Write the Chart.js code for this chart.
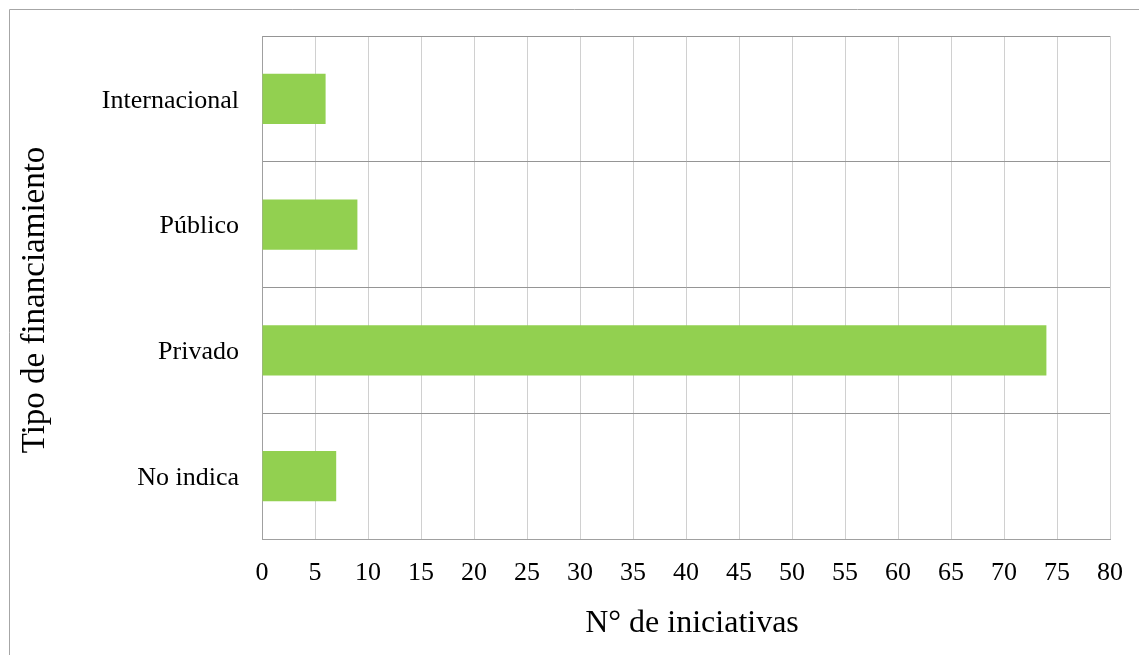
<!DOCTYPE html>
<html>
<head>
<meta charset="utf-8">
<script src="https://cdn.jsdelivr.net/npm/chart.js@4/dist/chart.umd.min.js"></script>
<style>
  html, body { margin: 0; padding: 0; background: #ffffff; overflow: hidden; }
  #wrap { position: relative; width: 1139px; height: 655px; }
</style>
</head>
<body>
<div id="wrap"><canvas id="chart" width="1139" height="655"></canvas></div>
<script>
// Funding types and number of initiatives per type
const categories = ['Internacional', 'Público', 'Privado', 'No indica'];
const initiatives = [6, 9, 74, 7];
const xTicks = [0, 5, 10, 15, 20, 25, 30, 35, 40, 45, 50, 55, 60, 65, 70, 75, 80];
const xTitle = 'N° de iniciativas';
const yTitle = 'Tipo de financiamiento';

const serif = "'Liberation Serif', 'Times New Roman', serif";

// Frame line along the top and left edges of the figure
const framePlugin = {
  id: 'frame',
  beforeDraw(chart) {
    const ctx = chart.ctx;
    ctx.save();
    ctx.strokeStyle = '#a6a6a6';
    ctx.lineWidth = 1;
    ctx.beginPath();
    ctx.moveTo(9.5, chart.height + 5);
    ctx.lineTo(9.5, 9.5);
    ctx.lineTo(chart.width + 5, 9.5);
    ctx.stroke();
    ctx.restore();
  }
};

// Axis titles, placed relative to the figure rather than the plot area
const axisTitlePlugin = {
  id: 'axisTitles',
  afterDraw(chart) {
    const ctx = chart.ctx;
    ctx.save();
    ctx.fillStyle = '#000000';
    ctx.textAlign = 'center';

    ctx.font = '32px ' + serif;
    ctx.textBaseline = 'alphabetic';
    ctx.fillText(xTitle, 692, 632);

    ctx.font = '33px ' + serif;
    ctx.textBaseline = 'middle';
    ctx.translate(35, 300);
    ctx.rotate(-Math.PI / 2);
    ctx.fillText(yTitle, 0, 0);
    ctx.restore();
  }
};

new Chart(document.getElementById('chart'), {
  type: 'bar',
  data: {
    labels: categories,
    datasets: [{
      data: initiatives,
      backgroundColor: '#92d050',
      borderWidth: 0,
      categoryPercentage: 1.0,
      barPercentage: 0.4
    }]
  },
  options: {
    indexAxis: 'y',
    responsive: false,
    animation: false,
    devicePixelRatio: 1,
    layout: { padding: { top: 36, right: 29, left: 0, bottom: 0 } },
    plugins: {
      legend: { display: false },
      tooltip: { enabled: false }
    },
    scales: {
      x: {
        min: 0,
        max: 80,
        afterBuildTicks(scale) {
          scale.ticks = xTicks.map(v => ({ value: v }));
        },
        afterFit(scale) {
          scale.height = 116;
          scale.paddingLeft = 0;
          scale.paddingRight = 0;
        },
        grid: { color: '#d0d0d0', lineWidth: 1, drawTicks: false },
        border: { color: '#a0a0a0', width: 1 },
        ticks: {
          color: '#000000',
          padding: 19,
          font: { family: serif, size: 26 },
          maxRotation: 0
        }
      },
      y: {
        afterFit(scale) {
          scale.width = 262;
          scale.paddingTop = 0;
          scale.paddingBottom = 0;
        },
        grid: { color: '#959595', lineWidth: 1, drawTicks: false, offset: true },
        border: { color: '#a0a0a0', width: 1 },
        ticks: {
          color: '#000000',
          padding: 23,
          labelOffset: 2,
          font: { family: serif, size: 26 }
        }
      }
    }
  },
  plugins: [framePlugin, axisTitlePlugin]
});
</script>
</body>
</html>
